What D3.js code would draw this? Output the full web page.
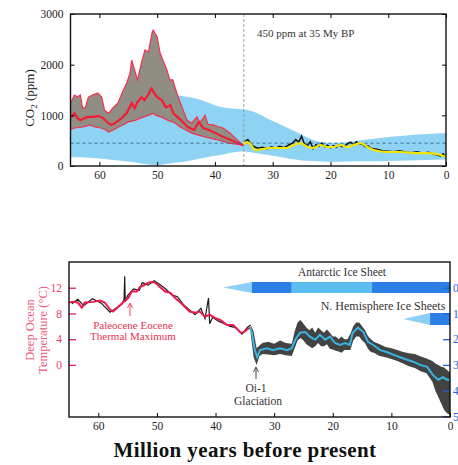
<!DOCTYPE html>
<html><head><meta charset="utf-8">
<script src="https://cdn.jsdelivr.net/npm/d3@7"></script>
<style>body{margin:0;background:#fff}svg{display:block}</style>
</head><body><svg id="c" width="458" height="465" style='font-family:"Liberation Serif","DejaVu Serif",serif'></svg>
<script>
// ---------- DATA ----------
const ageTicks = [60, 50, 40, 30, 20, 10, 0];
const co2Ticks = [0, 1000, 2000, 3000];
const tempTicks = [0, 4, 8, 12];
const d18Ticks = [0, 1, 2, 3, 4, 5];

// CO2 proxy uncertainty band (grey), upper & lower bounds [age My, ppm]
const co2Upper = [[65,1240],[64.3,1400],[63.8,1360],[63.3,1400],[62.9,1140],[62.4,1160],[61.9,1360],[61.2,1400],[60.3,1440],[59.6,1360],[59.1,1100],[58.4,1040],[57.7,1140],[56.8,1240],[56.0,1460],[55.3,1630],[54.7,1830],[54.4,2090],[53.9,1890],[53.4,1700],[52.7,2050],[52.1,2290],[51.5,2250],[50.9,2620],[50.7,2680],[50.0,2550],[49.5,2230],[49.0,2090],[48.3,1890],[47.8,1700],[47.3,1700],[46.6,1440],[45.7,1160],[44.8,900],[44.0,850],[43.1,970],[42.6,850],[41.7,1000],[41.2,820],[40.3,810],[39.5,780],[38.6,750],[37.4,650],[36.2,520],[35.1,410]];
const co2Lower = [[65,720],[64.3,750],[62.8,770],[61.6,810],[60.8,770],[59.7,750],[58.9,710],[58.4,670],[57.6,710],[56.7,770],[55.9,810],[55.0,870],[53.8,900],[52.8,950],[51.5,1000],[50.7,1040],[50.2,1000],[49.3,970],[48.1,900],[46.9,850],[46.0,770],[45.0,710],[44.0,650],[41.6,570],[39.3,510],[37.6,450],[35.1,410]];
const co2Mid = [[65,950],[64.3,1040],[63.8,950],[63.3,900],[62.5,950],[61.9,970],[61.0,970],[60.2,990],[59.4,950],[58.5,850],[57.9,810],[57.0,870],[56.1,950],[55.3,1040],[54.4,1240],[53.9,1140],[53.4,1260],[52.7,1360],[52.2,1300],[51.6,1400],[51.0,1530],[50.5,1440],[50.0,1360],[49.2,1300],[48.5,1160],[47.7,1200],[47.2,1040],[46.3,950],[45.4,850],[44.7,770],[43.6,710],[42.8,870],[42.0,750],[41.1,710],[40.3,670],[38.5,570],[35.1,410]];
// broad CO2 range (light blue)
const blueHi = [[65,1000],[55,1050],[50,1150],[47,1400],[44,1350],[39,1164],[34.4,1105],[29.2,848],[23,513],[20,454],[14.3,513],[10,572],[0,651]];
const blueLo = [[65,180],[60,150],[55,90],[50,20],[45,90],[40,200],[35,290],[30,200],[25,110],[20,80],[10,100],[0,130]];
// recent CO2 proxy data (black) and smoothed (yellow)
const co2Data = [[34.8,480],[34.3,520],[33.8,430],[33.2,380],[32.5,350],[31.8,370],[31,340],[30.2,380],[29.5,350],[28.8,390],[28,360],[27.3,410],[26.6,450],[26,520],[25.5,470],[25,590],[24.5,430],[24,400],[23.5,480],[23,340],[22.5,420],[22,390],[21.5,450],[21,380],[20.5,410],[20,360],[19.5,400],[19,370],[18.5,420],[18,380],[17.5,400],[17,440],[16.5,470],[16,410],[15.5,480],[15,440],[14.5,430],[14,380],[13.5,400],[13,350],[12,330],[11,300],[10,290],[9,280],[8,300],[7,270],[6,260],[5,280],[4,250],[3,270],[2,230],[1,200],[0.5,240],[0,170]];
const co2Smooth = [[35,430],[34.4,470],[33.9,440],[33.0,315],[30.4,355],[27.5,355],[26.4,414],[25.2,450],[24.0,375],[23.0,355],[21.7,414],[20.5,375],[19.5,375],[18.3,414],[17.1,375],[16.0,414],[14.8,450],[13.6,375],[12.5,315],[10.1,276],[7.8,276],[5.6,256],[3.2,256],[0.9,217],[0,178]];
const co2Ref = 450, refAge = 35;

// deep ocean temperature (°C)
const tempRed = [[65,9.7],[64.3,9.8],[63.5,9.7],[62.8,8.9],[62.3,9.7],[60.9,9.8],[59.7,10.0],[58.9,9.7],[58.0,8.6],[57.5,8.3],[56.6,9.0],[55.8,9.7],[54.9,10.4],[54.3,11.4],[53.4,11.4],[52.9,12.1],[52.0,12.5],[51.5,12.8],[50.8,12.9],[50.3,12.8],[49.5,12.1],[48.6,11.4],[47.7,11.2],[46.9,10.4],[46.1,9.8],[45.2,9.0],[44.4,8.3],[43.5,8.1],[42.7,8.3],[41.8,7.5],[41.0,7.8],[40.1,7.3],[39.2,7.0],[38.0,6.2],[37.0,6.2],[35.8,5.1],[35.3,5.0],[34.6,5.5],[34.1,5.8]];
const tempCyan = [[34.1,5.8],[33.8,5.0],[33.3,2.3],[32.9,1.2],[32.4,2.3],[31.2,2.6],[30.2,2.3],[29.0,2.6],[27.8,2.3],[27.0,2.6],[26.4,3.9],[25.6,5.0],[24.7,5.1],[23.9,4.4],[23.0,3.9],[22.2,4.7],[21.3,3.9],[20.5,4.4],[19.6,3.4],[18.8,3.1],[17.9,3.4],[17.1,3.1],[16.6,5.0],[15.7,5.8],[14.8,5.1],[14.0,3.6],[13.1,3.1],[11.9,2.3],[10.8,2.0],[9.7,1.6],[8.5,1.2],[7.3,0.8],[6.3,0.5],[5.1,0.0],[3.9,-0.3],[2.9,-1.6],[2.0,-2.3],[1.2,-1.9],[0.5,-2.3],[0,-2.3]];
const tempData = [[64.5,9.5],[63.5,10.2],[62.5,9.2],[61,10.3],[59.5,9.6],[58,8.2],[57,8.8],[56,9.4],[55.6,10.2],[55.5,13.8],[55.4,9.8],[55,10.8],[54,11.8],[53,11.6],[52.5,12.8],[51.5,12.4],[50.5,13.1],[49.5,12.5],[48.5,11.8],[47.5,10.9],[46.5,10.6],[45.5,9.4],[44.5,8.6],[43.5,7.8],[42.5,8.8],[41.8,7.2],[41.2,10.4],[41.0,6.4],[40.5,7.4],[39.5,6.8],[38.5,6.4],[37.5,6.0],[36.5,5.8],[35.5,4.8],[34.5,5.9],[34.0,6.2]];
const scatterAges = [34.0,33.5,33.0,32.5,32.0,31.0,30.0,29.0,28.0,27.0,26.5,26.0,25.5,25.0,24.5,24.0,23.5,23.0,22.5,22.0,21.5,21.0,20.5,20.0,19.5,19.0,18.5,18.0,17.5,17.0,16.5,16.0,15.5,15.0,14.5,14.0,13.5,13.0,12.0,11.0,10.0,9.0,8.0,7.0,6.0,5.0,4.0,3.0,2.5,2.0,1.5,1.0,0.5,0.0];
const scatterHi = [6.2,5.2,2.6,3.0,3.4,3.6,3.3,3.8,3.4,3.3,5.2,6.6,7.0,6.4,5.8,5.4,5.8,5.0,5.8,5.4,5.0,5.5,5.0,4.4,4.4,4.0,4.4,4.0,4.0,4.8,6.0,6.6,6.6,6.0,5.4,4.5,4.0,3.6,3.2,2.8,2.6,2.3,2.0,1.8,1.7,1.3,1.0,0.6,0.2,0.0,-0.3,-0.4,-0.8,-1.2];
const scatterLo = [4.8,1.2,0.0,1.4,1.7,1.6,1.5,1.7,1.5,1.4,2.6,3.8,4.2,3.8,3.2,2.9,2.6,2.9,3.4,2.9,2.9,3.2,2.5,2.4,2.2,2.1,1.9,2.3,2.3,2.3,3.8,4.4,4.4,3.8,3.4,2.5,2.0,1.9,1.4,1.2,0.9,0.6,0.2,-0.2,-0.5,-1.0,-1.3,-2.6,-4.0,-5.0,-6.0,-7.0,-7.5,-7.8];

// ice sheets: tip age, section boundaries ..., present
const antarcticBreaks = [38.7, 33.8, 27.0, 13.3, 0];
const nhBreaks = [8.0, 3.4, 0];

// ---------- DRAW ----------
const svg = d3.select("#c");
const serif = '"Liberation Serif","DejaVu Serif",serif';
const fmt = d3.format("d");
const TICK_FS = 11.5;

// ===== top panel =====
const T = {l:70.5, r:446, t:14, b:166};
const xT = d3.scaleLinear().domain([65,0]).range([T.l,T.r]);
const yT = d3.scaleLinear().domain([0,3000]).range([T.b,T.t]);
const gT = svg.append("g");
gT.append("clipPath").attr("id","clipT").append("rect").attr("x",T.l).attr("y",T.t).attr("width",T.r-T.l).attr("height",T.b-T.t);
const pT = gT.append("g").attr("clip-path","url(#clipT)");

// blue band
const allAges = Array.from(new Set(blueHi.map(d=>d[0]).concat(blueLo.map(d=>d[0])))).sort((a,b)=>b-a);
const hiI = d3.scaleLinear().domain(blueHi.map(d=>d[0])).range(blueHi.map(d=>d[1]));
const loI = d3.scaleLinear().domain(blueLo.map(d=>d[0])).range(blueLo.map(d=>d[1]));
pT.append("path").datum(allAges)
  .attr("d", d3.area().x(a=>xT(a)).y0(a=>yT(loI(a))).y1(a=>yT(hiI(a))).curve(d3.curveMonotoneX))
  .attr("fill","#8fd3f4");

// grey band
const gAges = Array.from(new Set(co2Upper.map(d=>d[0]).concat(co2Lower.map(d=>d[0])))).sort((a,b)=>b-a);
const uI = d3.scaleLinear().domain(co2Upper.map(d=>d[0])).range(co2Upper.map(d=>d[1]));
const lI = d3.scaleLinear().domain(co2Lower.map(d=>d[0])).range(co2Lower.map(d=>d[1]));
pT.append("path").datum(gAges)
  .attr("d", d3.area().x(a=>xT(a)).y0(a=>yT(lI(a))).y1(a=>yT(uI(a))))
  .attr("fill","#908e84");
const lineT = d3.line().x(d=>xT(d[0])).y(d=>yT(d[1]));
pT.append("path").datum(co2Upper).attr("d",lineT).attr("fill","none").attr("stroke","#f5304e").attr("stroke-width",1.2);
pT.append("path").datum(co2Lower).attr("d",lineT).attr("fill","none").attr("stroke","#f5304e").attr("stroke-width",1.2);
pT.append("path").datum(co2Mid).attr("d",lineT).attr("fill","none").attr("stroke","#f51c32").attr("stroke-width",2.2);

// reference lines
pT.append("line").attr("x1",T.l).attr("x2",T.r).attr("y1",yT(co2Ref)).attr("y2",yT(co2Ref))
  .attr("stroke","#3f6f8f").attr("stroke-width",1).attr("stroke-dasharray","3,3");
pT.append("line").attr("x1",xT(refAge)).attr("x2",xT(refAge)).attr("y1",T.t).attr("y2",T.b)
  .attr("stroke","#8a8a8a").attr("stroke-width",0.8).attr("stroke-dasharray","3,2");

// black data + yellow smooth
pT.append("path").datum(co2Data).attr("d",lineT).attr("fill","none").attr("stroke","#111").attr("stroke-width",1.5);
pT.append("path").datum(co2Smooth).attr("d",d3.line().x(d=>xT(d[0])).y(d=>yT(d[1])).curve(d3.curveMonotoneX))
  .attr("fill","none").attr("stroke","#f2e600").attr("stroke-width",2.2);

// axes top
const axB = d3.axisBottom(xT).tickValues(ageTicks).tickFormat(fmt).tickSizeInner(-4).tickSizeOuter(0).tickPadding(5);
const axL = d3.axisLeft(yT).tickValues(co2Ticks).tickFormat(fmt).tickSizeInner(-4).tickSizeOuter(0).tickPadding(7);
const gxb = gT.append("g").attr("transform",`translate(0,${T.b})`).call(axB);
const gyl = gT.append("g").attr("transform",`translate(${T.l},0)`).call(axL);
gT.append("g").attr("transform",`translate(0,${T.t})`).call(d3.axisTop(xT).tickValues(ageTicks).tickSizeInner(-4).tickSizeOuter(0).tickFormat(""));
gT.append("g").attr("transform",`translate(${T.r},0)`).call(d3.axisRight(yT).tickValues(co2Ticks).tickSizeInner(-4).tickSizeOuter(0).tickFormat(""));
gT.selectAll("g").attr("font-family",null);
[gxb,gyl].forEach(g=>g.selectAll("text").style("font-family",serif).attr("font-size",TICK_FS).attr("fill","#222"));
gT.selectAll(".domain").remove();
gT.append("rect").attr("x",T.l).attr("y",T.t).attr("width",T.r-T.l).attr("height",T.b-T.t)
  .attr("fill","none").attr("stroke","#111").attr("stroke-width",1.4);
gT.append("text").attr("transform",`translate(34,${(T.t+T.b)/2+8}) rotate(-90)`).attr("text-anchor","middle")
  .style("font-family",serif).attr("font-size",13).attr("fill","#222")
  .html('CO<tspan font-size="9" dy="3">2</tspan><tspan dy="-3"> (ppm)</tspan>');
gT.append("text").attr("x",257).attr("y",37).style("font-family",serif).attr("font-size",11).attr("fill","#333").text("450 ppm at 35 My BP");

// ===== bottom panel =====
const B = {l:69, r:450, t:262, b:417};
const xB = d3.scaleLinear().domain([65,0]).range([B.l,B.r]);
const yB = d3.scaleLinear().domain([-8.1,16]).range([B.b,B.t]);
const yD = d3.scaleLinear().domain([5.025,-1]).range([B.b,B.t]);
const gB = svg.append("g");
gB.append("clipPath").attr("id","clipB").append("rect").attr("x",B.l).attr("y",B.t).attr("width",B.r-B.l).attr("height",B.b-B.t);
const pB = gB.append("g").attr("clip-path","url(#clipB)");
const lineB = d3.line().x(d=>xB(d[0])).y(d=>yB(d[1]));

// ice sheet bars
function iceBar(breaks, y0, y1, colors) {
  const ym = (y0+y1)/2;
  pB.append("path")
    .attr("d", `M${xB(breaks[0])},${ym} L${xB(breaks[1])},${y0} L${xB(breaks[1])},${y1} Z`)
    .attr("fill","#8ed0f4");
  for (let i=1;i<breaks.length-1;i++) {
    pB.append("rect").attr("x",xB(breaks[i])).attr("y",y0).attr("width",xB(breaks[i+1])-xB(breaks[i])).attr("height",y1-y0)
      .attr("fill",colors[(i-1)%colors.length]);
  }
}
iceBar(antarcticBreaks, 282, 293, ["#2b7fe6","#5cbdf0"]);
iceBar(nhBreaks, 313, 325, ["#2b7fe6"]);

// scatter data
const scat = scatterAges.map((a,i)=>[a,scatterHi[i],scatterLo[i]]);
pB.append("path").datum(scat)
  .attr("d", d3.area().x(d=>xB(d[0])).y0(d=>yB(d[2])).y1(d=>yB(d[1])))
  .attr("fill","#1a1a1a").attr("opacity",0.82);
pB.append("path").datum(tempData).attr("d",lineB).attr("fill","none").attr("stroke","#1a1a1a").attr("stroke-width",1.2);
pB.append("path").datum(tempRed).attr("d",lineB).attr("fill","none").attr("stroke","#ea1a4c").attr("stroke-width",2);
pB.append("path").datum(tempCyan).attr("d",lineB).attr("fill","none").attr("stroke","#38b4e4").attr("stroke-width",2);

// axes bottom
const gbx = gB.append("g").attr("transform",`translate(0,${B.b})`).call(d3.axisBottom(xB).tickValues(ageTicks).tickFormat(fmt).tickSizeInner(-4).tickSizeOuter(0).tickPadding(5));
const gbl = gB.append("g").attr("transform",`translate(${B.l},0)`).call(d3.axisLeft(yB).tickValues(tempTicks).tickFormat(fmt).tickSizeInner(-7).tickSizeOuter(0).tickPadding(7));
const gbr = gB.append("g").attr("transform",`translate(${B.r},0)`).call(d3.axisRight(yD).tickValues(d18Ticks).tickFormat(fmt).tickSizeInner(-7).tickSizeOuter(0).tickPadding(3));
gB.selectAll("g").attr("font-family",null);
gbx.selectAll("text").style("font-family",serif).attr("font-size",TICK_FS).attr("fill","#222");
gbl.selectAll("text").style("font-family",serif).attr("font-size",TICK_FS).attr("fill","#e8405e");
gbl.selectAll("line").attr("stroke","#e8204a").attr("stroke-width",1.3);
gbr.selectAll("text").style("font-family",serif).attr("font-size",TICK_FS).attr("fill","#2060d8");
gbr.selectAll("line").attr("stroke","#2060d8").attr("stroke-width",1.3);
gB.selectAll(".domain").remove();
gB.append("rect").attr("x",B.l).attr("y",B.t).attr("width",B.r-B.l).attr("height",B.b-B.t)
  .attr("fill","none").attr("stroke","#111").attr("stroke-width",1.4);

// labels
const yl = gB.append("text").attr("transform",`translate(0,330) rotate(-90)`).attr("text-anchor","middle")
  .style("font-family",serif).attr("font-size",12.5).attr("fill","#ee5a78");
yl.append("tspan").attr("x",0).attr("y",34).text("Deep Ocean");
yl.append("tspan").attr("x",0).attr("y",47).text("Temperature (°C)");
gB.append("text").attr("x",342).attr("y",276).attr("text-anchor","middle").style("font-family",serif).attr("font-size",11.5).attr("fill","#333").text("Antarctic Ice Sheet");
gB.append("text").attr("x",383).attr("y",310).attr("text-anchor","middle").style("font-family",serif).attr("font-size",12).attr("fill","#333").text("N. Hemisphere Ice Sheets");

const petm = gB.append("text").attr("text-anchor","middle").style("font-family",serif).attr("font-size",11).attr("fill","#e8304e");
petm.append("tspan").attr("x",133).attr("y",329).text("Paleocene Eocene");
petm.append("tspan").attr("x",133).attr("y",340).text("Thermal Maximum");
gB.append("line").attr("x1",130).attr("x2",130).attr("y1",316).attr("y2",304).attr("stroke","#e8304e").attr("stroke-width",0.9);
gB.append("path").attr("d","M127.5,308 L130,303 L132.5,308").attr("fill","none").attr("stroke","#e8304e").attr("stroke-width",0.9);

const oi = gB.append("text").attr("text-anchor","middle").style("font-family",serif).attr("font-size",11.5).attr("fill","#333");
oi.append("tspan").attr("x",256).attr("y",392).text("Oi-1");
oi.append("tspan").attr("x",258).attr("y",405).text("Glaciation");
gB.append("line").attr("x1",256).attr("x2",256).attr("y1",379).attr("y2",368).attr("stroke","#333").attr("stroke-width",0.9);
gB.append("path").attr("d","M253.5,372 L256,367 L258.5,372").attr("fill","none").attr("stroke","#333").attr("stroke-width",0.9);

svg.append("text").attr("x",245).attr("y",457).attr("text-anchor","middle").style("font-family",serif).attr("font-size",21)
  .attr("letter-spacing",0.4).attr("font-weight","bold")
  .attr("fill","#111").text("Million years before present");
</script></body></html>
